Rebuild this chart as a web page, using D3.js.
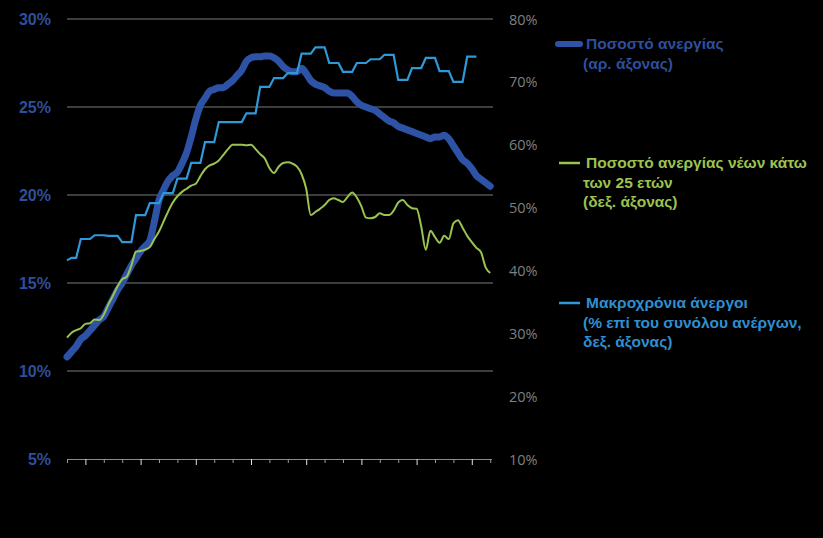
<!DOCTYPE html>
<html>
<head>
<meta charset="utf-8">
<script src="https://cdn.jsdelivr.net/npm/d3@7"></script>
<style>
  html, body { margin: 0; padding: 0; background: #000; }
  svg { display: block; }
</style>
</head>
<body>
<div id="chart"></div>
<script>
// ---- Data (monthly index 0..92) ----
const unemploymentRate = [
  10.8, 11.1, 11.4, 11.8, 12.0, 12.3, 12.6, 12.9, 13.1, 13.6,
  14.1, 14.6, 15.0, 15.5, 16.0, 16.4, 16.8, 17.1, 17.4, 18.5,
  19.7, 20.3, 20.8, 21.1, 21.3, 21.8, 22.4, 23.3, 24.3, 25.1,
  25.5, 25.9, 26.0, 26.1, 26.1, 26.3, 26.5, 26.8, 27.1, 27.6,
  27.8, 27.85, 27.85, 27.9, 27.9, 27.8, 27.6, 27.3, 27.1, 27.0,
  27.0, 27.2, 26.9, 26.5, 26.3, 26.2, 26.1, 25.9, 25.8, 25.8,
  25.8, 25.8, 25.6, 25.3, 25.1, 25.0, 24.9, 24.8, 24.6, 24.4,
  24.2, 24.1, 23.9, 23.8, 23.7, 23.6, 23.5, 23.4, 23.3, 23.2,
  23.3, 23.3, 23.4, 23.2, 22.8, 22.4, 22.0, 21.8, 21.5, 21.1,
  20.9, 20.7, 20.5
];
const youthUnemployment = [
  29.3, 30.1, 30.5, 30.8, 31.5, 31.6, 32.2, 32.1, 33.0, 34.6,
  36.0, 37.5, 38.6, 39.0, 40.8, 43.0, 43.1, 43.3, 43.7, 45.0,
  46.2, 47.8, 49.4, 50.8, 51.8, 52.5, 53.0, 53.5, 53.8, 55.0,
  56.1, 56.7, 57.0, 57.5, 58.4, 59.3, 60.0, 60.0, 60.0, 59.9,
  60.0, 59.3, 58.5, 57.8, 56.3, 55.5, 56.5, 57.1, 57.2, 57.0,
  56.5, 55.3, 53.0, 48.8, 49.3, 49.8, 50.4, 51.2, 51.5, 51.2,
  50.9, 51.7, 52.4, 51.6, 50.2, 48.4, 48.3, 48.5, 49.1, 48.8,
  48.8, 49.5, 50.8, 51.2, 50.4, 49.9, 49.8, 47.0, 43.3, 46.3,
  45.3, 44.4, 45.5, 45.0, 47.5, 48.0, 46.8, 45.5, 44.5, 43.6,
  42.9, 40.5, 39.6
];
const longTermUnemployed = [
  41.6, 42.0, 42.0, 45.0, 45.0, 45.0, 45.6, 45.6, 45.6, 45.5,
  45.5, 45.5, 44.5, 44.5, 44.5, 48.8, 48.8, 48.8, 50.7, 50.7,
  50.7, 52.3, 52.3, 52.3, 54.6, 54.6, 54.6, 57.1, 57.1, 57.1,
  60.4, 60.4, 60.4, 63.6, 63.6, 63.6, 63.6, 63.6, 63.6, 65.0,
  65.0, 65.0, 69.2, 69.2, 69.2, 70.6, 70.6, 70.6, 71.4, 71.4,
  71.4, 74.5, 74.5, 74.5, 75.5, 75.5, 75.5, 73.0, 73.0, 73.0,
  71.6, 71.6, 71.6, 73.0, 73.0, 73.0, 73.6, 73.6, 73.6, 74.3,
  74.3, 74.3, 70.3, 70.3, 70.3, 72.2, 72.2, 72.2, 73.8, 73.8,
  73.8, 71.7, 71.7, 71.7, 70.0, 70.0, 70.0, 74.0, 74.0, 74.0
];
const leftTicks = [5, 10, 15, 20, 25, 30];
const rightTicks = [10, 20, 30, 40, 50, 60, 70, 80];
const xTickMonths = d3.range(0, 93, 4);
const xMajorMonths = [4, 16, 28, 40, 52, 64, 76, 88];

const legendItems = [
  { lines: ["Ποσοστό ανεργίας", "(αρ. άξονας)"], color: "#2d52a6", textColor: "#2d4f9e", width: 6, y: 44 },
  { lines: ["Ποσοστό ανεργίας νέων κάτω", "των 25 ετών", "(δεξ. άξονας)"], color: "#9bc34f", textColor: "#9bc34f", width: 2.5, y: 163 },
  { lines: ["Μακροχρόνια άνεργοι", "(% επί του συνόλου ανέργων,", "δεξ. άξονας)"], color: "#2f98d8", textColor: "#2e8fd2", width: 2.5, y: 303 }
];

// ---- Chart ----
const W = 823, H = 538;
const svg = d3.select("#chart").append("svg").attr("width", W).attr("height", H)
  .style("background", "#000");

const x = d3.scaleLinear().domain([0, 92]).range([67, 490.2]);
const yL = d3.scaleLinear().domain([5, 30]).range([459, 19]);
const yR = d3.scaleLinear().domain([10, 80]).range([459, 19]);

// gridlines
svg.append("g").selectAll("line").data(leftTicks.filter(d => d > 5)).join("line")
  .attr("x1", 67).attr("x2", 493)
  .attr("y1", d => yL(d)).attr("y2", d => yL(d))
  .attr("stroke", "#7a7a7a").attr("stroke-width", 1);

// left axis
const leftAxis = d3.axisLeft(yL).tickValues(leftTicks).tickSize(0).tickPadding(0)
  .tickFormat(d => d + "%");
const gL = svg.append("g").attr("transform", "translate(51,0)").call(leftAxis);
gL.select(".domain").remove();
gL.selectAll("text").attr("fill", "#2d4f9e").attr("font-family", "Liberation Sans, Arial, sans-serif")
  .attr("font-weight", "bold").attr("font-size", "16px").attr("dy", "0.35em");

// right axis
const rightAxis = d3.axisRight(yR).tickValues(rightTicks).tickSize(0).tickPadding(0)
  .tickFormat(d => d + "%");
const gR = svg.append("g").attr("transform", "translate(509,0)").call(rightAxis);
gR.select(".domain").remove();
gR.selectAll("text").attr("fill", "#7f7f7f").attr("font-family", "Open Sans, Liberation Sans, sans-serif")
  .attr("font-size", "14.5px").attr("dy", "0.35em");

// bottom axis
const bottomAxis = d3.axisBottom(x).tickValues(xTickMonths).tickSize(4).tickFormat("");
const gB = svg.append("g").attr("transform", "translate(0,459)").call(bottomAxis);
gB.select(".domain").attr("stroke", "#8a8a8a").attr("d", "M67,0.5H492");
gB.selectAll(".tick line").attr("stroke", d => xMajorMonths.includes(d) ? "#e0e0e0" : "#9a9a9a")
  .attr("y2", d => xMajorMonths.includes(d) ? 6 : 4);

// lines
const lineL = d3.line().x((d, i) => x(i)).y(d => yL(d)).curve(d3.curveMonotoneX);
const lineR = d3.line().x((d, i) => x(i)).y(d => yR(d)).curve(d3.curveMonotoneX);
const lineRStep = d3.line().x((d, i) => x(i)).y(d => yR(d));

svg.append("path").datum(unemploymentRate).attr("d", lineL)
  .attr("fill", "none").attr("stroke", "#2d52a6").attr("stroke-width", 7)
  .attr("stroke-linejoin", "round").attr("stroke-linecap", "round");
svg.append("path").datum(longTermUnemployed).attr("d", lineRStep)
  .attr("fill", "none").attr("stroke", "#2f98d8").attr("stroke-width", 2.2);
svg.append("path").datum(youthUnemployment).attr("d", lineR)
  .attr("fill", "none").attr("stroke", "#9bc34f").attr("stroke-width", 2);

// legend
const lg = svg.append("g");
legendItems.forEach((item, k) => {
  lg.append("line").attr("x1", k === 0 ? 558 : 559).attr("x2", 580)
    .attr("y1", item.y).attr("y2", item.y)
    .attr("stroke", item.color).attr("stroke-width", item.width)
    .attr("stroke-linecap", k === 0 ? "round" : "butt");
  const t = lg.append("text").attr("font-family", "Liberation Sans, Arial, sans-serif")
    .attr("font-weight", "bold").attr("font-size", "15.5px").attr("fill", item.textColor);
  item.lines.forEach((ln, j) => {
    t.append("tspan").attr("x", j === 0 ? 586 : 583).attr("y", item.y + j * 19.5)
      .attr("dy", "0.35em").text(ln);
  });
});
</script>
</body>
</html>
